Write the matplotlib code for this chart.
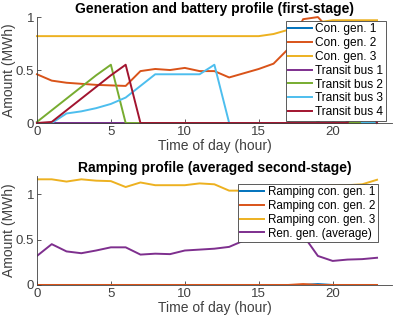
import matplotlib.pyplot as plt
import numpy as np

plt.rcParams['font.family'] = ['Liberation Sans', 'DejaVu Sans']

# hours 0..23
hours = np.arange(24)

# first-stage generation and battery profile (MWh)
con_gen1 = [0]*24
con_gen2 = [0.46, 0.40, 0.38, 0.37, 0.36, 0.355, 0.35, 0.49, 0.51, 0.50, 0.52, 0.49,
            0.49, 0.43, 0.47, 0.51, 0.56, 0.70, 0.98, 1.00, 0.85, 0.75, 0.70, 0.65]
con_gen3 = [0.82]*16 + [0.84, 0.88, 0.92, 0.95, 0.97, 0.97, 0.97, 0.97]
bus1 = [0]*20 + [0.30, 0, 0, 0]
bus2 = [0.01, 0.12, 0.23, 0.34, 0.45, 0.55, 0, 0, 0, 0, 0, 0,
        0, 0, 0, 0, 0, 0, 0.35, 0, 0, 0, 0, 0]
bus3 = [0, 0, 0.09, 0.11, 0.14, 0.18, 0.24, 0.35, 0.46, 0.46, 0.46, 0.46,
        0.55, 0, 0, 0, 0, 0, 0, 0, 0, 0.30, 0, 0]
bus4 = [0, 0.01, 0.12, 0.23, 0.34, 0.45, 0.55, 0, 0, 0, 0, 0,
        0, 0, 0, 0, 0, 0, 0, 0, 0, 0, 0.30, 0]

# averaged second-stage ramping profile (MWh)
ramp_gen1 = [0]*19 + [0.01] + [0]*4
ramp_gen2 = [0]*18 + [0.01] + [0]*5
ramp_gen3 = [1.165, 1.165, 1.14, 1.165, 1.15, 1.145, 1.08, 1.13, 1.10, 1.10, 1.10, 1.12,
             1.11, 1.04, 1.04, 1.05, 1.06, 1.07, 1.08, 1.09, 1.10, 1.10, 1.11, 1.16]
ren_gen = [0.32, 0.45, 0.37, 0.35, 0.38, 0.415, 0.415, 0.335, 0.345, 0.34, 0.38, 0.39,
           0.40, 0.42, 0.49, 0.55, 0.60, 0.62, 0.55, 0.32, 0.265, 0.28, 0.285, 0.30]

colors = ['#0072BD', '#D95319', '#EDB120', '#7E2F8E', '#77AC30', '#4DBEEE', '#A2142F']


def style_axes(ax, ylim, yticks):
    ax.set_xlim(0, 24)
    ax.set_ylim(*ylim)
    ax.set_xticks([0, 5, 10, 15, 20])
    ax.set_yticks(yticks)
    ax.set_yticklabels(['0', '0.5', '1'])
    for s in ['top', 'right']:
        ax.spines[s].set_visible(False)
    for s in ['left', 'bottom']:
        ax.spines[s].set_color('#404040')
        ax.spines[s].set_linewidth(0.6)
    ax.tick_params(direction='in', length=3, width=0.6, colors='#404040',
                   labelsize=9.5, pad=2)
    ax.set_xlabel('Time of day (hour)', fontsize=10, color='#404040', labelpad=1)
    ax.set_ylabel('Amount (MWh)', fontsize=10, color='#404040', labelpad=0)


def style_legend(leg):
    leg.get_frame().set_linewidth(0.6)
    leg.get_frame().set_edgecolor('#404040')


fig = plt.figure(figsize=(3.93, 3.22), dpi=100)

ax1 = fig.add_axes([0.094, 0.618, 0.903, 0.329])
top_series = [con_gen1, con_gen2, con_gen3, bus1, bus2, bus3, bus4]
top_labels = ['Con. gen. 1', 'Con. gen. 2', 'Con. gen. 3', 'Transit bus 1',
              'Transit bus 2', 'Transit bus 3', 'Transit bus 4']
for vals, lab, c in zip(top_series, top_labels, colors):
    ax1.plot(hours, vals, color=c, lw=1.4, label=lab, clip_on=False)
style_axes(ax1, (0, 1), [0, 0.5, 1])
ax1.set_title('Generation and battery profile (first-stage)', fontsize=10,
              fontweight='bold', pad=3)
leg1 = ax1.legend(loc='upper right', bbox_to_anchor=(0.983, 0.962), fontsize=8.6,
                  frameon=True, fancybox=False, framealpha=1,
                  handlelength=2.0, handletextpad=0.3, labelspacing=0.15,
                  borderpad=0.2, borderaxespad=0)
style_legend(leg1)

ax2 = fig.add_axes([0.094, 0.115, 0.903, 0.338])
bot_series = [ramp_gen1, ramp_gen2, ramp_gen3, ren_gen]
bot_labels = ['Ramping con. gen. 1', 'Ramping con. gen. 2', 'Ramping con. gen. 3',
              'Ren. gen. (average)']
for vals, lab, c in zip(bot_series, bot_labels, colors):
    ax2.plot(hours, vals, color=c, lw=1.4, label=lab)
style_axes(ax2, (0, 1.2), [0, 0.5, 1])
ax2.set_title('Ramping profile (averaged second-stage)', fontsize=10,
              fontweight='bold', pad=3)
leg2 = ax2.legend(loc='upper right', bbox_to_anchor=(0.96, 0.928), fontsize=8.4,
                  frameon=True, fancybox=False, framealpha=1,
                  handlelength=2.1, handletextpad=0.3, labelspacing=0.15,
                  borderpad=0.2, borderaxespad=0)
style_legend(leg2)

fig.savefig('out.png', dpi=100)
